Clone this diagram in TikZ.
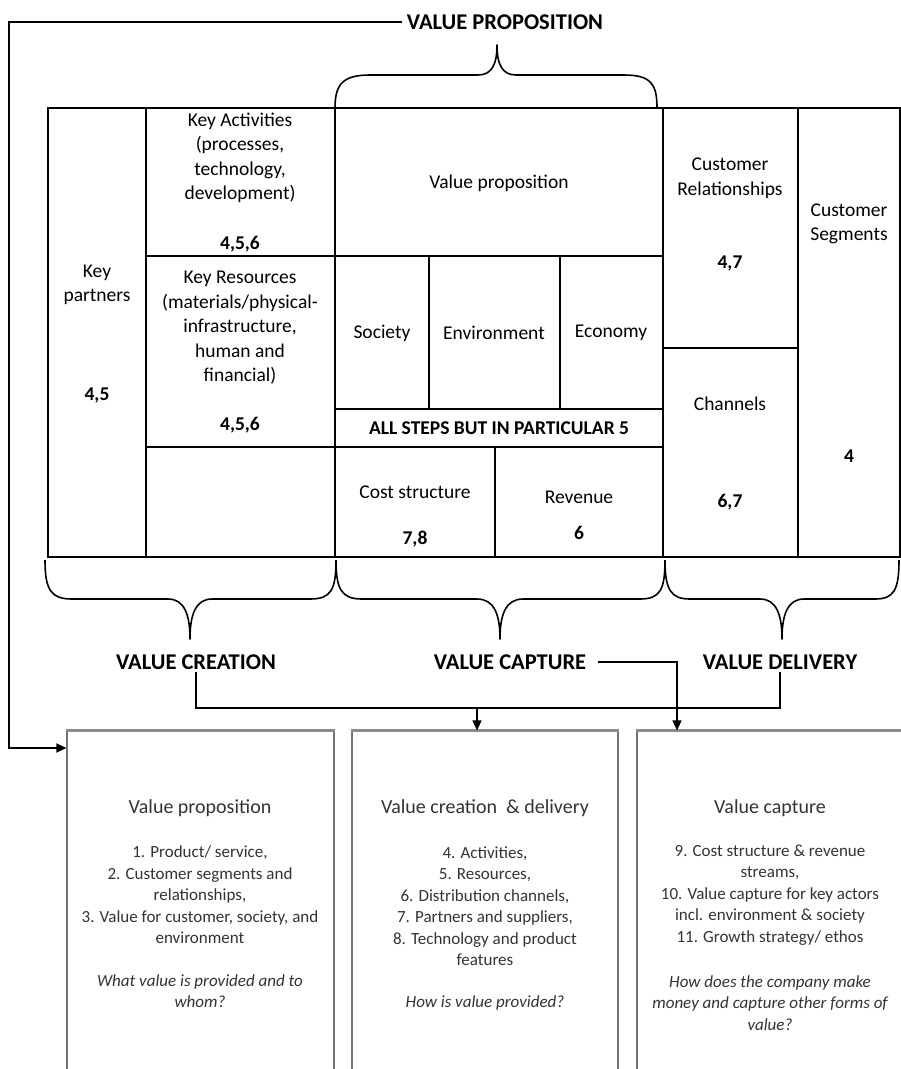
\documentclass[tikz,border=0pt]{standalone}
\usepackage{fontspec}
\setmainfont{Carlito}
\usetikzlibrary{positioning, fit, arrows.meta, calc}

\begin{document}
\begin{tikzpicture}[%
    x=1pt, y=-1pt,
    >={Triangle[length=10pt, width=9pt]},
    font=\fontsize{19.5}{24.5}\selectfont,
    % Canvas grid
    cell/.style={draw, line width=1.2pt, inner sep=0pt},
    txt/.style={align=center, inner sep=0pt},
    num/.style={inner sep=0pt, font=\fontsize{19.5}{24.5}\selectfont\bfseries},
    heading/.style={inner sep=2pt, font=\fontsize{22.5}{24}\selectfont\bfseries},
    brace/.style={draw, line width=1.6pt, line join=round},
    link/.style={draw, line width=1.6pt},
    % Lower panels
    panel/.style={draw=black!55, line width=1.2pt, inner sep=0pt},
    paneltop/.style={draw=black!45, line width=3pt},
    ptitle/.style={align=center, inner sep=0pt, text=black!80, font=\fontsize{20}{24}\selectfont},
    plist/.style={align=center, inner sep=0pt, text=black!80, font=\fontsize{17}{21.5}\selectfont},
    pquest/.style={align=center, inner sep=0pt, text=black!80, font=\fontsize{17}{21.5}\selectfont\itshape}
]
\useasboundingbox (0,0) rectangle (901,1069);

% --- 1. Business model canvas ---
\node[cell, fit={(48,108) (146,557)}] (kp) {};
\node[cell, fit={(146,108) (335,256)}] (ka) {};
\node[cell, fit={(146,256) (335,447)}] (kr) {};
\node[cell, fit={(146,447) (335,557)}] (blank) {};
\node[cell, fit={(335,108) (663,256)}] (vp) {};
\node[cell, fit={(335,256) (429,409)}] (soc) {};
\node[cell, fit={(429,256) (560,409)}] (env) {};
\node[cell, fit={(560,256) (663,409)}] (eco) {};
\node[cell, fit={(335,409) (663,447)}] (steps) {};
\node[cell, fit={(335,447) (495,557)}] (cost) {};
\node[cell, fit={(495,447) (663,557)}] (rev) {};
\node[cell, fit={(663,108) (798,348)}] (cr) {};
\node[cell, fit={(663,348) (798,557)}] (ch) {};
\node[cell, fit={(798,108) (900,557)}] (cs) {};

% Cell texts
\node[txt] at (97,285) {Key\\partners};
\node[num] at (97,395) {4,5};
\node[txt] at (240,158) {Key Activities\\(processes,\\technology,\\development)};
\node[num] at (240,244) {4,5,6};
\node[txt] at (240,328) {Key Resources\\(materials/physical-\\infrastructure,\\human and\\financial)};
\node[num] at (240,425) {4,5,6};
\node[txt] at (499,183) {Value proposition};
\node[txt] at (382,333) {Society};
\node[txt] at (494,333) {Environment};
\node[txt] at (611,333) {Economy};
\node[num] at (499,428) {ALL STEPS BUT IN PARTICULAR 5};
\node[txt] at (415,492) {Cost structure};
\node[num] at (415,539) {7,8};
\node[txt] at (579,497) {Revenue};
\node[num] at (579,533) {6};
\node[txt] at (730,178) {Customer\\Relationships};
\node[num] at (730,263) {4,7};
\node[txt] at (730,404) {Channels};
\node[num] at (730,502) {6,7};
\node[txt] at (849,224) {Customer\\Segments};
\node[num] at (849,456) {4};

% --- 2. Braces ---
\draw[brace] (335,108) .. controls (335,84) and (343,75) .. (370,75) -- (478,75)
    .. controls (492,75) and (497,64) .. (497,45)
    .. controls (497,64) and (502,75) .. (516,75) -- (624,75)
    .. controls (651,75) and (657,84) .. (657,108);
\draw[brace] (45,560) .. controls (45,590) and (51,599) .. (72,599) -- (168,599)
    .. controls (184,599) and (190,614) .. (190,639)
    .. controls (190,614) and (196,599) .. (212,599) -- (310,599)
    .. controls (331,599) and (336,590) .. (336,560);
\draw[brace] (336,560) .. controls (336,590) and (342,599) .. (362,599) -- (477,599)
    .. controls (494,599) and (500,614) .. (500,639)
    .. controls (500,614) and (506,599) .. (523,599) -- (640,599)
    .. controls (660,599) and (665,590) .. (665,560);
\draw[brace] (665,560) .. controls (665,590) and (671,599) .. (690,599) -- (760,599)
    .. controls (776,599) and (782,614) .. (782,639)
    .. controls (782,614) and (788,599) .. (804,599) -- (875,599)
    .. controls (894,599) and (899,590) .. (899,560);

% --- 3. Headings ---
\node[heading] (vpl) at (505,22) {VALUE PROPOSITION};
\node[heading] (cre) at (196,662) {VALUE CREATION};
\node[heading] (cap) at (510,662) {VALUE CAPTURE};
\node[heading] (del) at (780,662) {VALUE DELIVERY};

% --- 4. Panels ---
\node[panel, fit={(67,731) (334,1090)}] (pan1) {};
\node[panel, fit={(352,731) (618,1090)}] (pan2) {};
\node[panel, fit={(637,731) (904,1090)}] (pan3) {};
\draw[paneltop] (pan1.north west) -- (pan1.north east);
\draw[paneltop] (pan2.north west) -- (pan2.north east);
\draw[paneltop] (pan3.north west) -- (pan3.north east);

\node[ptitle] at (200,808) {Value proposition};
\node[plist] at (200,895) {1. Product/ service,\\2. Customer segments and\\relationships,\\3. Value for customer, society, and\\environment};
\node[pquest] at (200,991) {What value is provided and to\\whom?};

\node[ptitle] at (485,808) {Value creation\ \ \& delivery};
\node[plist] at (485,906) {4. Activities,\\5. Resources,\\6. Distribution channels,\\7. Partners and suppliers,\\8. Technology and product\\features};
\node[pquest] at (485,1003) {How is value provided?};

\node[ptitle] at (770,808) {Value capture};
\node[plist] at (770,895) {9. Cost structure \& revenue\\streams,\\10. Value capture for key actors\\incl. environment \& society\\11. Growth strategy/ ethos};
\node[pquest] at (770,1003) {How does the company make\\money and capture other forms of\\value?};

% --- 5. Connectors ---
\coordinate (join) at (477,708);
\coordinate (capdrop) at (677,662);
\coordinate (bend) at (9,748);

\draw[link] (cre.south) |- (join) -| (del.south);
\draw[link, ->] (join) -- (join |- pan2.north);
\draw[link, ->, shorten <=10pt] (cap.east) -- (capdrop) -- (capdrop |- pan3.north);
\draw[link, ->, shorten <=3pt] (vpl.west) -| (bend) -- (bend -| pan1.west);

\end{tikzpicture}
\end{document}
